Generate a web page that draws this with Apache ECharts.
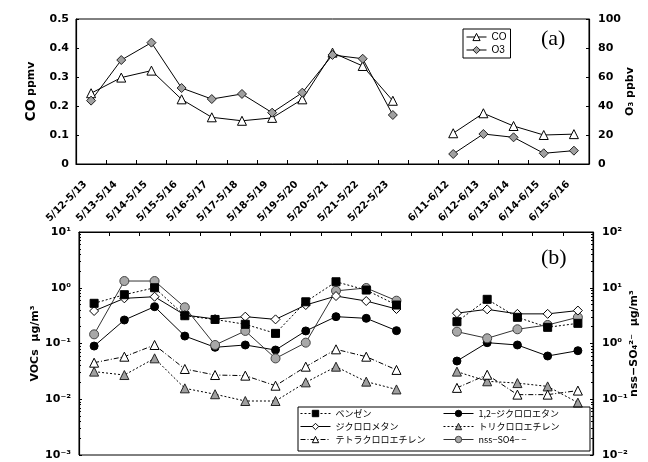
<!DOCTYPE html>
<html>
<head>
<meta charset="utf-8">
<script src="https://cdn.jsdelivr.net/npm/echarts@6/dist/echarts.min.js"></script>
<style>
  html, body { margin: 0; padding: 0; background: #fff; }
  #chart { width: 648px; height: 462px; }
</style>
</head>
<body>
<div id="chart"></div>
<script>
// periods (one empty slot between May and June)
var periods = ['5/12-5/13', '5/13-5/14', '5/14-5/15', '5/15-5/16', '5/16-5/17', '5/17-5/18',
  '5/18-5/19', '5/19-5/20', '5/20-5/21', '5/21-5/22', '5/22-5/23', '',
  '6/11-6/12', '6/12-6/13', '6/13-6/14', '6/14-6/15', '6/15-6/16'];

// (a) CO ppmv, O3 ppbv
var co = [0.244, 0.298, 0.322, 0.223, 0.161, 0.149, 0.159, 0.223, 0.384, 0.338, 0.218, null,
  0.106, 0.175, 0.131, 0.100, 0.103];
var o3 = [43.7, 71.7, 83.7, 52.4, 44.8, 48.3, 35.4, 49.2, 75.2, 72.6, 33.8, null,
  6.9, 20.7, 18.4, 7.4, 9.2];

// (b) VOCs ug/m3
var benzene = [0.526, 0.75, 1.0, 0.315, 0.27, 0.221, 0.152, 0.56, 1.28, 0.91, 0.49, null,
  0.246, 0.62, 0.295, 0.195, 0.23];
var dcm = [0.383, 0.646, 0.69, 0.324, 0.275, 0.303, 0.271, 0.49, 0.71, 0.578, 0.416, null,
  0.35, 0.41, 0.34, 0.34, 0.39];
var pce = [0.0453, 0.058, 0.094, 0.0349, 0.0272, 0.0265, 0.0175, 0.0384, 0.0786, 0.058, 0.0336, null,
  0.016, 0.0275, 0.0121, 0.0121, 0.0143];
var dce = [0.090, 0.264, 0.458, 0.136, 0.0855, 0.094, 0.0764, 0.168, 0.303, 0.283, 0.170, null,
  0.0485, 0.1035, 0.094, 0.0597, 0.0743];
var tce = [0.0313, 0.0272, 0.0542, 0.0157, 0.0123, 0.0093, 0.0093, 0.0201, 0.0384, 0.0207, 0.015, null,
  0.0313, 0.021, 0.0195, 0.017, 0.0087];
// nss-SO4 ug/m3 (right axis)
var nss = [1.46, 13.2, 13.2, 4.46, 0.94, 1.68, 0.54, 1.035, 8.8, 9.9, 5.86, null,
  1.63, 1.24, 1.80, 2.15, 2.95];

var bold = 'DejaVu Sans';
var jp = 'Noto Sans CJK JP';
var sup = { '0': '⁰', '1': '¹', '2': '²', '3': '³', '-': '⁻' };
function pow10(v) {
  var e = String(Math.round(Math.log10(v)));
  return '10' + e.split('').map(function (c) { return sup[c]; }).join('');
}

var tickLab = { fontFamily: bold, fontWeight: 'bold', fontSize: 11, color: '#000' };
var axLine = { show: true, lineStyle: { color: '#000', width: 1.2 } };

function line(name, data, opt) {
  return Object.assign({
    name: name, type: 'line', data: data, connectNulls: false,
    symbolSize: 8, lineStyle: { color: '#000', width: 1 },
    itemStyle: { color: '#000', borderColor: '#000', borderWidth: 1 }
  }, opt);
}

var legendLine = { width: 1 };
var legendItem = { borderWidth: 1 };

var myChart = echarts.init(document.getElementById('chart'));
var option = {
  animation: false,
  backgroundColor: '#fff',
  grid: [
    { left: 76, top: 19, width: 513, height: 145, show: true, borderColor: '#000', borderWidth: 1 },
    { left: 79, top: 232, width: 516, height: 223, show: true, borderColor: '#000', borderWidth: 1 }
  ],
  legend: [
    {
      data: ['CO', 'O3'], orient: 'vertical', left: 463, top: 29, padding: [3, 4, 3, 3],
      itemGap: 3, itemWidth: 20, itemHeight: 9, borderColor: '#000', borderWidth: 1,
      lineStyle: legendLine, itemStyle: legendItem,
      textStyle: { fontSize: 10, fontFamily: 'Liberation Sans', color: '#000' }
    },
    {
      data: ['ベンゼン', 'ジクロロメタン', 'テトラクロロエチレン'], orient: 'vertical',
      left: 300, top: 409, padding: 0, itemGap: 4, itemWidth: 30, itemHeight: 8,
      lineStyle: legendLine, itemStyle: legendItem,
      textStyle: { fontSize: 9, fontFamily: jp, color: '#000' }
    },
    {
      data: ['1,2−ジクロロエタン', 'トリクロロエチレン', 'nss−SO4− −'], orient: 'vertical',
      left: 443, top: 409, padding: 0, itemGap: 4, itemWidth: 30, itemHeight: 8,
      lineStyle: legendLine, itemStyle: legendItem,
      textStyle: { fontSize: 9, fontFamily: jp, color: '#000' }
    }
  ],
  graphic: [
    { type: 'rect', shape: { x: 298, y: 407, width: 292, height: 44 },
      style: { fill: 'none', stroke: '#000', lineWidth: 1 }, z: 100 },
    { type: 'text', left: 541, top: 28,
      style: { text: '(a)', font: '22px "Liberation Serif"', fill: '#000' } },
    { type: 'text', left: 541, top: 247,
      style: { text: '(b)', font: '22px "Liberation Serif"', fill: '#000' } }
  ],
  xAxis: [
    {
      type: 'category', gridIndex: 0, data: periods, boundaryGap: true,
      axisLine: axLine,
      axisTick: { show: true, inside: true, length: 4, interval: 0, lineStyle: { color: '#000' } },
      axisLabel: { interval: 0, rotate: 45, margin: 13, padding: [0, 8, 0, 0], fontFamily: bold,
        fontWeight: 'bold', fontSize: 10, color: '#000' },
      splitLine: { show: false }
    },
    {
      type: 'category', gridIndex: 1, data: periods, boundaryGap: true, position: 'top',
      axisLine: axLine,
      axisTick: { show: true, inside: true, length: 4, interval: 0, lineStyle: { color: '#000' } },
      axisLabel: { show: false },
      splitLine: { show: false }
    }
  ],
  yAxis: [
    {
      type: 'value', gridIndex: 0, min: 0, max: 0.5, interval: 0.1, position: 'left',
      axisLine: axLine, axisTick: { show: true, inside: true, length: 3 },
      axisLabel: Object.assign({ margin: 7 }, tickLab), splitLine: { show: false },
      name: '{a|CO} {b|ppmv}', nameLocation: 'middle', nameRotate: 90, nameGap: 38,
      nameMoveOverlap: false,
      nameTextStyle: { rich: {
        a: { fontFamily: bold, fontWeight: 'bold', fontSize: 14, color: '#000' },
        b: { fontFamily: bold, fontWeight: 'bold', fontSize: 11, color: '#000' } } }
    },
    {
      type: 'value', gridIndex: 0, min: 0, max: 100, interval: 20, position: 'right',
      axisLine: axLine, axisTick: { show: true, inside: true, length: 3 },
      axisLabel: Object.assign({ margin: 9 }, tickLab), splitLine: { show: false },
      name: 'O₃ ppbv', nameLocation: 'middle', nameRotate: 90, nameGap: 36,
      nameMoveOverlap: false,
      nameTextStyle: { fontFamily: bold, fontWeight: 'bold', fontSize: 11, color: '#000' }
    },
    {
      type: 'log', logBase: 10, gridIndex: 1, min: 0.001, max: 10, position: 'left',
      axisLine: axLine, axisTick: { show: true, inside: true, length: 3 },
      minorTick: { show: true, splitNumber: 9, length: 2, lineStyle: { color: '#000' } },
      axisLabel: Object.assign({ margin: 8, formatter: pow10 }, tickLab), splitLine: { show: false },
      name: 'VOCs  μg/m³', nameLocation: 'middle', nameRotate: 90, nameGap: 38,
      nameMoveOverlap: false,
      nameTextStyle: { fontFamily: bold, fontWeight: 'bold', fontSize: 11, color: '#000' }
    },
    {
      type: 'log', logBase: 10, gridIndex: 1, min: 0.01, max: 100, position: 'right',
      axisLine: axLine, axisTick: { show: true, inside: true, length: 3 },
      minorTick: { show: true, splitNumber: 9, length: 2, lineStyle: { color: '#000' } },
      axisLabel: Object.assign({ margin: 9, formatter: pow10 }, tickLab), splitLine: { show: false },
      name: 'nss−SO₄²⁻  μg/m³', nameLocation: 'middle', nameRotate: 90, nameGap: 36,
      nameMoveOverlap: false,
      nameTextStyle: { fontFamily: bold, fontWeight: 'bold', fontSize: 11, color: '#000' }
    }
  ],
  series: [
    line('CO', co, { xAxisIndex: 0, yAxisIndex: 0, symbol: 'triangle', symbolSize: 9,
      itemStyle: { color: '#fff', borderColor: '#000', borderWidth: 1 } }),
    line('O3', o3, { xAxisIndex: 0, yAxisIndex: 1, symbol: 'diamond', symbolSize: 9,
      itemStyle: { color: '#a0a0a0', borderColor: '#222', borderWidth: 1 } }),

    line('トリクロロエチレン', tce, { xAxisIndex: 1, yAxisIndex: 2, symbol: 'triangle', symbolSize: 9,
      lineStyle: { color: '#000', width: 1, type: [2, 2] },
      itemStyle: { color: '#a0a0a0', borderColor: '#222', borderWidth: 1 } }),
    line('テトラクロロエチレン', pce, { xAxisIndex: 1, yAxisIndex: 2, symbol: 'triangle', symbolSize: 9,
      lineStyle: { color: '#000', width: 1, type: [5, 2, 1, 2] },
      itemStyle: { color: '#fff', borderColor: '#000', borderWidth: 1 } }),
    line('1,2−ジクロロエタン', dce, { xAxisIndex: 1, yAxisIndex: 2, symbol: 'circle', symbolSize: 8,
      itemStyle: { color: '#000', borderColor: '#000', borderWidth: 1 } }),
    line('nss−SO4− −', nss, { xAxisIndex: 1, yAxisIndex: 3, symbol: 'circle', symbolSize: 9,
      lineStyle: { color: '#333', width: 1 },
      itemStyle: { color: '#a8a8a8', borderColor: '#444', borderWidth: 1 } }),
    line('ジクロロメタン', dcm, { xAxisIndex: 1, yAxisIndex: 2, symbol: 'diamond', symbolSize: 9,
      itemStyle: { color: '#fff', borderColor: '#000', borderWidth: 1 } }),
    line('ベンゼン', benzene, { xAxisIndex: 1, yAxisIndex: 2, symbol: 'rect', symbolSize: 8,
      lineStyle: { color: '#000', width: 1, type: [2, 2] },
      itemStyle: { color: '#000', borderColor: '#000', borderWidth: 1 } })
  ]
};
myChart.setOption(option);
</script>
</body>
</html>
